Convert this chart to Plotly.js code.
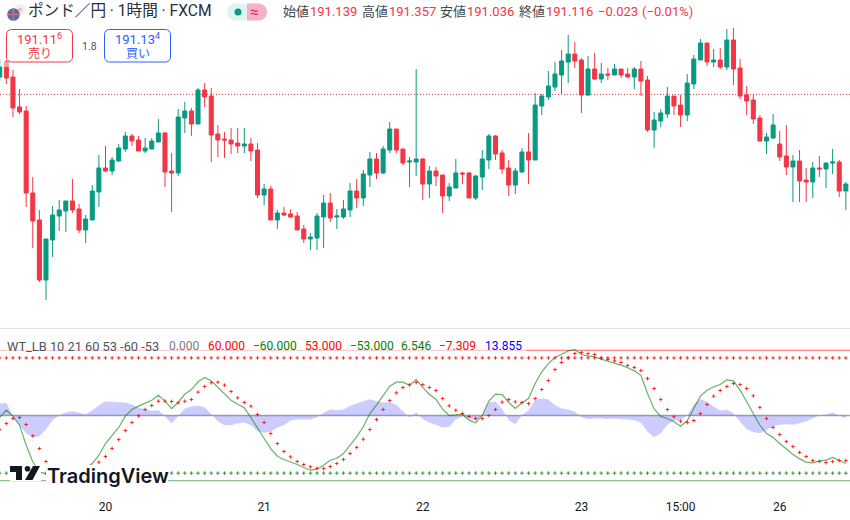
<!DOCTYPE html>
<html>
<head>
<meta charset="utf-8">
<script src="https://cdn.plot.ly/plotly-3.0.1.min.js"></script>
<style>html,body{margin:0;padding:0;background:#fff;overflow:hidden}#chart{width:850px;height:520px}</style>
</head>
<body>
<div id="chart"></div>
<script>
const firstBar = -1;
const opens = [191.29,191.44,191.29,190.99,190.95,190.13,189.86,189.26,189.66,189.90,189.95,190.05,189.97,189.76,189.86,190.14,190.38,190.35,190.45,190.57,190.70,190.66,190.55,190.57,190.64,190.73,190.35,190.33,190.88,190.95,190.82,191.16,191.10,190.72,190.67,190.66,190.63,190.60,190.62,190.56,190.11,190.17,189.86,189.93,189.92,189.90,189.77,189.67,189.68,189.89,190.03,189.89,189.89,189.96,190.15,190.08,190.31,190.47,190.33,190.56,190.77,190.57,190.44,190.44,190.47,190.22,190.35,190.31,190.10,190.18,190.33,190.33,190.08,190.29,190.46,190.70,190.53,190.38,190.21,190.34,190.54,190.46,191.00,191.09,191.19,191.31,191.44,191.52,191.46,191.11,191.37,191.27,191.32,191.31,191.37,191.32,191.29,191.37,191.26,190.76,190.85,190.92,191.10,191.01,190.91,191.22,191.46,191.63,191.44,191.46,191.39,191.66,191.38,191.11,191.06,190.88,190.65,190.68,190.62,190.50,190.39,190.45,190.26,190.24,190.38,190.37,190.43,190.44,190.15];
const highs = [191.47,191.46,191.36,191.17,191.00,190.29,189.96,189.67,190.00,190.06,190.05,190.27,190.02,189.91,190.21,190.51,190.60,190.49,190.62,190.74,190.72,190.70,190.68,190.68,190.87,190.74,190.53,190.97,191.04,190.98,191.18,191.23,191.18,190.81,190.74,190.78,190.78,190.78,190.68,190.63,190.22,190.20,189.96,189.99,189.97,189.94,189.81,189.73,189.93,190.11,190.13,189.97,190.06,190.23,190.27,190.36,190.54,190.53,190.60,190.84,190.77,190.57,190.49,191.37,190.48,190.40,190.39,190.31,190.23,190.47,190.34,190.34,190.31,190.56,190.72,190.71,190.56,190.46,190.38,190.58,190.73,191.13,191.12,191.35,191.44,191.56,191.71,191.64,191.48,191.50,191.53,191.43,191.38,191.42,191.37,191.38,191.39,191.45,191.30,190.94,190.97,191.19,191.10,191.11,191.32,191.51,191.67,191.63,191.57,191.58,191.77,191.78,191.47,191.20,191.12,190.91,190.73,190.92,190.75,190.81,190.51,190.56,190.38,190.44,190.50,190.43,190.57,190.46,190.24];
const lows = [191.25,191.22,190.89,190.92,189.99,189.58,189.24,189.06,189.49,189.75,189.74,189.93,189.73,189.63,189.86,189.99,190.34,190.31,190.44,190.54,190.60,190.55,190.53,190.57,190.64,190.19,189.94,190.30,190.73,190.70,190.82,190.99,190.44,190.49,190.48,190.52,190.53,190.53,190.45,190.08,190.01,189.86,189.77,189.90,189.88,189.76,189.63,189.56,189.56,189.58,189.84,189.77,189.87,189.89,189.98,190.00,190.19,190.27,190.32,190.53,190.53,190.41,190.19,190.30,190.06,190.08,190.20,189.93,190.05,190.18,190.22,190.08,190.06,190.16,190.37,190.46,190.32,190.10,190.12,190.33,190.22,190.46,190.91,191.06,191.15,191.12,191.23,191.38,190.93,191.10,191.26,191.23,191.26,191.31,191.28,191.28,191.17,191.10,190.74,190.58,190.79,190.88,190.91,190.79,190.85,191.17,191.46,191.40,191.39,191.37,191.36,191.21,191.07,190.91,190.82,190.65,190.52,190.67,190.45,190.31,190.04,190.04,190.04,190.08,190.29,190.18,190.32,190.09,189.96];
const closes = [191.39,191.28,190.98,190.94,190.13,189.85,189.26,189.67,189.91,189.96,190.05,189.96,189.76,189.87,190.15,190.38,190.35,190.46,190.58,190.70,190.65,190.55,190.58,190.65,190.73,190.34,190.33,190.89,190.95,190.82,191.16,191.09,190.71,190.66,190.66,190.62,190.60,190.62,190.55,190.11,190.17,189.86,189.93,189.91,189.89,189.76,189.67,189.69,189.90,190.03,189.88,189.90,189.97,190.15,190.08,190.32,190.47,190.33,190.57,190.77,190.56,190.43,190.45,190.47,190.22,190.35,190.30,190.10,190.19,190.33,190.32,190.08,190.30,190.47,190.70,190.52,190.37,190.21,190.35,190.54,190.46,191.01,191.10,191.20,191.32,191.45,191.52,191.45,191.11,191.37,191.27,191.32,191.31,191.37,191.31,191.29,191.37,191.25,190.76,190.86,190.93,191.10,191.00,190.91,191.23,191.47,191.63,191.44,191.46,191.39,191.66,191.37,191.10,191.05,190.87,190.65,190.69,190.81,190.49,190.39,190.45,190.25,190.24,190.38,190.37,190.43,190.44,190.15,190.22];
const wt1 = [-1.8,4.9,-0.6,-8.9,-27.3,-42.6,-51.8,-54.0,-55.8,-56.4,-53.4,-47.8,-47.8,-47.8,-44.2,-36.5,-25.8,-18.1,-11.0,-0.6,5.5,8.6,11.7,14.1,18.7,13.5,6.4,12.0,19.6,23.9,31.0,35.0,31.9,25.8,19.6,14.1,10.4,7.1,-1.8,-12.0,-21.2,-30.4,-37.4,-40.5,-42.6,-45.1,-47.8,-50.3,-49.4,-45.7,-41.1,-39.3,-35.0,-27.3,-19.6,-10.4,1.8,9.5,17.8,27.0,30.7,30.7,27.9,33.1,25.8,19.6,14.7,5.8,0,0.9,1.2,-4.3,-6.7,0.3,13.2,19.6,19.3,12.0,6.4,11.7,15.6,29.4,40.2,47.8,53.4,56.4,59.5,60.7,56.1,54.9,54.0,51.8,50.0,48.8,46.3,43.9,41.1,37.1,20.2,6.1,-0.9,-2.8,-5.8,-9.8,-4.9,6.4,17.8,23.3,26.4,28.5,32.8,31.9,23.3,12.6,1.8,-8.9,-16.6,-20.2,-25.8,-31.3,-35.9,-39.9,-42.9,-43.6,-41.7,-41.1,-38.6,-41.1,-44.2];
const wt2 = [-12.9,-7.4,-2.8,-1.8,-8.3,-18.7,-30.4,-42.3,-50.9,-54.6,-54.9,-53.4,-51.2,-49.1,-46.9,-42.9,-37.7,-30.4,-22.1,-13.8,-6.4,-0.3,5.5,9.2,13.2,13.2,12.9,11.7,13.2,14.7,21.5,26.7,30.1,30.7,27.9,22.1,16.3,12.0,8.6,0.9,-6.4,-16.6,-25.8,-33.1,-38.0,-42.3,-45.1,-47.2,-48.5,-48.8,-46.9,-44.2,-40.5,-35.0,-29.4,-21.8,-12.9,-3.7,5.5,13.8,20.9,25.8,28.2,30.4,28.5,25.8,23.0,15.6,8.9,4.9,1.8,-0.9,-2.8,-2.8,0,5.5,12.3,14.7,12.6,12.0,11.0,15.6,23.9,32.2,42.3,48.8,53.1,57.0,58.0,57.0,56.1,52.8,51.5,50.3,48.8,46.0,44.2,41.4,34.0,24.8,14.7,5.5,-1.2,-5.2,-6.4,-4.6,1.8,10.1,17.8,23.0,26.7,29.4,28.5,24.8,18.1,7.4,-2.8,-11.0,-17.5,-23.9,-28.5,-34.0,-37.7,-41.4,-42.3,-43.2,-42.3,-41.4,-41.4];
const wtDiff = [11.0,11.7,-0.6,-8.9,-16.6,-20.2,-19.0,-12.6,-4.3,0.3,2.8,4.0,2.5,0.9,4.9,9.5,12.9,12.6,12.3,12.0,10.1,7.4,5.5,4.3,4.9,-0.6,-7.4,-0.6,6.4,8.3,8.9,7.7,1.2,-5.2,-8.9,-8.9,-7.4,-6.4,-8.9,-14.4,-15.9,-15.0,-11.0,-8.9,-4.6,-3.7,-3.7,-3.7,-1.5,2.5,5.5,4.9,5.5,8.9,11.0,13.2,15.0,13.2,12.0,12.3,9.8,4.0,-1.8,3.1,-3.1,-6.7,-8.6,-11.0,-10.4,-3.7,-0.6,-2.8,-4.9,0,12.3,12.9,6.1,-4.3,-8.0,0.3,4.9,14.1,15.6,14.7,9.5,6.4,5.5,3.7,-1.8,-3.1,-2.8,-2.8,-3.1,-2.8,-3.4,-3.7,-4.3,-6.7,-15.0,-19.9,-16.3,-8.6,-4.9,-4.6,0.3,10.4,15.3,12.6,8.3,4.6,5.2,2.1,-5.8,-12.3,-15.3,-16.3,-13.5,-10.1,-8.6,-8.0,-8.6,-7.1,-5.5,-2.5,0,0.9,2.8,-0.3,-2.8];
const tickBars = [15,39,63,87,102,117];
const tickLabels = ['20','21','22','23','15:00','26'];
const priceLine = 191.116;
const overbought1 = 60, overbought2 = 53, oversold1 = -60, oversold2 = -53;

const headerText = [
  ['ポンド／円 · 1時間 · FXCM',27,11,'#2a2e39',15.6],
  ['始値',282,11,'#434651',13],['191.139',309,11,'#F23645',13],
  ['高値',361,11,'#434651',13],['191.357',388,11,'#F23645',13],
  ['安値',439,11,'#434651',13],['191.036',466,11,'#F23645',13],
  ['終値',518,11,'#434651',13],['191.116',545,11,'#F23645',13],
  ['−0.023',597,11,'#F23645',13],['(−0.01%)',641,11,'#F23645',13],
  ['WT_LB 10 21 60 53 -60 -53',6,346,'#50535e',12.8],
  ['0.000',168,346,'#787b86',12],['60.000',207,346,'#ff0000',12],
  ['−60.000',252,346,'#008000',12],['53.000',304,346,'#ff0000',12],
  ['−53.000',349,346,'#008000',12],['6.546',400,346,'#008000',12],
  ['−7.309',438,346,'#ff0000',12],['13.855',484,346,'#0000ff',12]
];

const W = 850, H = 520;
const px = v => v / W, py = v => 1 - v / H;
const FONT = "Roboto, 'Noto Sans CJK JP', sans-serif";
const bars = opens.map((_, i) => firstBar + i);
const rectShape = (x0, y0, x1, y1, fill, extra) => Object.assign({type:'rect',xref:'paper',yref:'paper',x0:px(x0),x1:px(x1),y0:py(y0),y1:py(y1),fillcolor:fill,line:{width:0},layer:'above'}, extra||{});
const circle = (cx, cy, r, fill, extra) => rectShape(cx-r, cy-r, cx+r, cy+r, fill, Object.assign({type:'circle'}, extra||{}));
const pathShape = (pts, fill) => ({type:'path',xref:'paper',yref:'paper',layer:'above',fillcolor:fill,line:{width:0},
  path:'M'+pts.map(p=>px(p[0])+','+py(p[1])).join(' L')+' Z'});
const roundRect = (x0,y0,x1,y1,r,stroke) => {
  const c=[];
  const arc=(cx,cy,a0)=>{for(let k=0;k<=6;k++){const a=a0+k*Math.PI/12;c.push([cx+r*Math.cos(a),cy+r*Math.sin(a)]);}};
  arc(x1-r,y0+r,-Math.PI/2);arc(x1-r,y1-r,0);arc(x0+r,y1-r,Math.PI/2);arc(x0+r,y0+r,Math.PI);
  return {type:'path',xref:'paper',yref:'paper',layer:'above',fillcolor:'#ffffff',line:{color:stroke,width:1},path:'M'+c.map(p=>px(p[0])+','+py(p[1])).join(' L')+' Z'};
};
const note = (text,x,y,color,size,extra) => Object.assign({text,xref:'paper',yref:'paper',x:px(x),y:py(y),xanchor:'left',yanchor:'middle',showarrow:false,borderpad:0,font:{family:FONT,size,color}},extra||{});
const crossMarker = color => ({symbol:'cross-thin',size:2.6,color,line:{width:1,color}});

const traces = [
  {type:'scatter',x:bars,y:wtDiff,xaxis:'x',yaxis:'y2',mode:'none',fill:'tozeroy',fillcolor:'rgba(0,0,255,0.2)',hoverinfo:'skip'},
  {type:'scatter',x:bars,y:bars.map(()=>overbought2),xaxis:'x',yaxis:'y2',mode:'markers',marker:crossMarker('rgba(255,0,0,0.8)'),hoverinfo:'skip'},
  {type:'scatter',x:bars,y:bars.map(()=>oversold2),xaxis:'x',yaxis:'y2',mode:'markers',marker:crossMarker('rgba(0,128,0,0.75)'),hoverinfo:'skip'},
  {type:'scatter',x:bars,y:wt1,xaxis:'x',yaxis:'y2',mode:'lines',line:{color:'rgba(0,128,0,0.6)',width:1.2,shape:'linear'},hoverinfo:'skip'},
  {type:'scatter',x:bars,y:wt2,xaxis:'x',yaxis:'y2',mode:'markers',marker:crossMarker('rgba(255,0,0,0.8)'),hoverinfo:'skip'},
  {type:'candlestick',x:bars,open:opens,high:highs,low:lows,close:closes,xaxis:'x',yaxis:'y',whiskerwidth:0,
   increasing:{line:{color:'#089981',width:1},fillcolor:'#089981'},decreasing:{line:{color:'#F23645',width:1},fillcolor:'#F23645'},hoverinfo:'skip'}
];

const levelLine = (v,color,dash,width) => ({type:'line',xref:'paper',yref:'y2',x0:0,x1:1,y0:v,y1:v,line:{color,width:width||1,dash:dash||'solid'},layer:'below'});

const shapes = [
  {type:'line',xref:'paper',yref:'y',x0:0,x1:1,y0:priceLine,y1:priceLine,line:{color:'#F23645',width:1,dash:'1px,2px'},layer:'below'},
  levelLine(overbought1,'rgba(255,0,0,0.6)'),
  levelLine(oversold1,'rgba(0,128,0,0.6)'),
  levelLine(0,'rgba(120,123,134,0.65)',null,1.6),
  {type:'line',xref:'paper',yref:'paper',x0:0,x1:1,y0:py(328.5),y1:py(328.5),line:{color:'#e0e3eb',width:1},layer:'below'},
  rectShape(0,339,526,351.5,'rgba(255,255,255,0.6)'),
  rectShape(3,62,9.5,67,'rgba(255,255,255,0.5)'),
  // sell / buy buttons
  roundRect(6.5,29.5,72.5,62,5,'#F23645'),
  roundRect(104.5,29.5,170.5,62,5,'#2962FF'),
  // pill
  {type:'path',xref:'paper',yref:'paper',layer:'above',fillcolor:'#dff4ef',line:{width:0},
   path:(()=>{const c=[];for(let k=0;k<=12;k++){const a=Math.PI/2+k*Math.PI/12;c.push([235.5+8.5*Math.cos(a),12+8.5*Math.sin(a)]);}c.push([247,3.5],[247,20.5]);return 'M'+c.map(p=>px(p[0])+','+py(p[1])).join(' L')+' Z';})()},
  {type:'path',xref:'paper',yref:'paper',layer:'above',fillcolor:'#f5b1c8',line:{width:0},
   path:(()=>{const c=[[247,20.5],[247,3.5]];for(let k=0;k<=12;k++){const a=-Math.PI/2+k*Math.PI/12;c.push([258.5+8.5*Math.cos(a),12+8.5*Math.sin(a)]);}return 'M'+c.map(p=>px(p[0])+','+py(p[1])).join(' L')+' Z';})()},
  circle(238,12,3.5,'#089981'),
  // flags
  circle(20,9.5,5.5,'#f6eaea'),
  circle(20,9.5,1.8,'#f3b6b6'),
  circle(13.5,14.5,6.3,'#5a6aa0'),
  rectShape(7.2,13.8,19.8,15.2,'#d8717c'),
  rectShape(12.8,8.2,14.2,20.8,'#d8717c'),
  // TradingView watermark
  rectShape(10,465.5,41,481,'#ffffff'),
  rectShape(46,465,168,487,'#ffffff'),
  pathShape([[10,466],[22,466],[22,480],[16,480],[16,472],[10,472]],'#131722'),
  circle(27.5,468.8,2.8,'#131722'),
  pathShape([[33,466],[40,466],[32.5,480],[25,480]],'#131722')
];

const annotations = headerText.map(t => note(t[0],t[1],t[2],t[3],t[4]));
annotations.push(
  note('191.11<sup>6</sup>',39.5,39,'#F23645',13,{xanchor:'center'}),
  note('売り',39.5,54,'#F23645',12,{xanchor:'center'}),
  note('1.8',89,46,'#50535e',10.5,{xanchor:'center'}),
  note('191.13<sup>4</sup>',137.5,39,'#2962FF',13,{xanchor:'center'}),
  note('買い',137.5,54,'#2962FF',12,{xanchor:'center'}),
  note('≈',254,12,'#e91e63',15,{xanchor:'center'}),
  note('TradingView',46,476,'#131722',20,{font:{family:"Inter, Roboto, sans-serif",size:20,color:'#131722',weight:600}})
);

const layout = {
  width:W,height:H,margin:{l:0,r:0,t:0,b:0},paper_bgcolor:'#fff',plot_bgcolor:'#fff',showlegend:false,
  font:{family:FONT,color:'#131722'},hovermode:false,boxgap:0.13,
  xaxis:{domain:[0,1],range:[-0.958,127.63],anchor:'y2',rangeslider:{visible:false},showgrid:false,zeroline:false,showline:false,ticks:'',
    tickmode:'array',tickvals:tickBars,ticktext:tickLabels,tickfont:{size:12,color:'#131722',family:FONT},fixedrange:true},
  yaxis:{domain:[1-328/520,1],range:[188.78,192.06],showgrid:false,zeroline:false,showticklabels:false,ticks:'',anchor:'free',position:0,fixedrange:true},
  yaxis2:{domain:[22/520,1-329/520],range:[-75.9,79.6],showgrid:false,zeroline:false,showticklabels:false,ticks:'',anchor:'x',fixedrange:true},
  shapes,annotations
};
Plotly.newPlot('chart',traces,layout,{displayModeBar:false,staticPlot:true}).then(gd => {
  gd.querySelectorAll('text').forEach(t => { if (!t.textContent.trim()) t.remove(); });
});
</script>
</body>
</html>
